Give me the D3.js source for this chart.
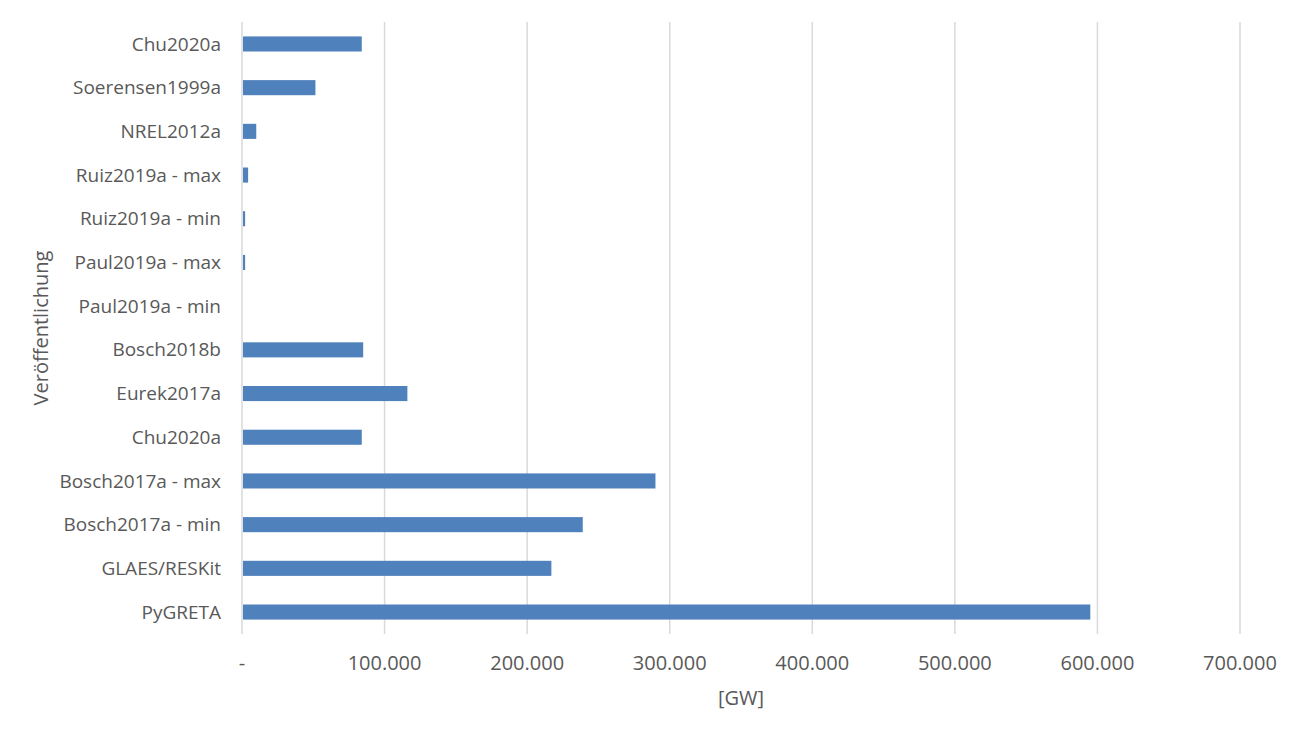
<!DOCTYPE html>
<html>
<head>
<meta charset="utf-8">
<script src="https://cdn.jsdelivr.net/npm/d3@7"></script>
<style>
  body { margin: 0; background: #fff; }
  svg { display: block; }
</style>
</head>
<body>
<div id="chart"></div>
<script>
const W = 1306, H = 737;
const margin = { top: 22, right: 66, bottom: 103, left: 242 };

// categories top to bottom
const labels = ["Chu2020a", "Soerensen1999a", "NREL2012a", "Ruiz2019a - max", "Ruiz2019a - min",
    "Paul2019a - max", "Paul2019a - min", "Bosch2018b", "Eurek2017a", "Chu2020a",
    "Bosch2017a - max", "Bosch2017a - min", "GLAES/RESKit ", "PyGRETA "];
const values = [84000, 51500, 10000, 4300, 2200, 2200, 0, 85000, 116000, 84000,
    290000, 239000, 217000, 595000];
const xTicks = [0, 100000, 200000, 300000, 400000, 500000, 600000, 700000];

const font = "'Open Sans', sans-serif";
const textColor = "#595959";

const svg = d3.select("#chart").append("svg")
    .attr("width", W).attr("height", H);

const iw = W - margin.left - margin.right;
const ih = H - margin.top - margin.bottom;

const g = svg.append("g").attr("transform", `translate(${margin.left},${margin.top})`);

const x = d3.scaleLinear().domain([0, 700000]).range([0, iw]);
const y = d3.scaleBand().domain(d3.range(labels.length)).range([0, ih]).paddingInner(0.655).paddingOuter(0.33);

// gridlines
g.selectAll(".grid").data(xTicks).enter().append("line")
    .attr("x1", d => x(d)).attr("x2", d => x(d))
    .attr("y1", 0).attr("y2", ih)
    .attr("stroke", "#d9d9d9").attr("stroke-width", 1.5)

// bars
g.selectAll(".bar").data(values).enter().append("rect")
    .attr("x", x(0) + 1)
    .attr("y", (d, i) => y(i))
    .attr("width", d => Math.max(0, x(d) - x(0) - 1))
    .attr("height", y.bandwidth())
    .attr("fill", "#4f81bd")

// category labels
g.selectAll(".lab").data(labels).enter().append("text")
    .attr("x", -21)
    .attr("y", (d, i) => y(i) + y.bandwidth() / 2)
    .attr("dy", "0.35em")
    .attr("text-anchor", "end")
    .style("font-family", font).style("font-size", "19px")
    .attr("fill", textColor)
    .text(d => d)

// x tick labels
const fmt = v => v === 0 ? "-" : d3.format(",")(v).replace(/,/g, ".");
g.selectAll(".xt").data(xTicks).enter().append("text")
    .attr("x", d => x(d))
    .attr("y", ih + 29)
    .attr("dy", "0.35em")
    .attr("text-anchor", "middle")
    .style("font-family", font).style("font-size", "20px")
    .attr("fill", textColor)
    .text(fmt)

// axis titles
svg.append("text")
    .attr("x", margin.left + x(350000))
    .attr("y", 698)
    .attr("dy", "0.35em")
    .attr("text-anchor", "middle")
    .style("font-family", font).style("font-size", "20px")
    .attr("fill", textColor)
    .text("[GW]")

svg.append("text")
    .attr("transform", "translate(41,328) rotate(-90)")
    .attr("dy", "0.35em")
    .attr("text-anchor", "middle")
    .style("font-family", font).style("font-size", "20px")
    .attr("fill", textColor)
    .text("Veröffentlichung")
</script>
</body>
</html>
